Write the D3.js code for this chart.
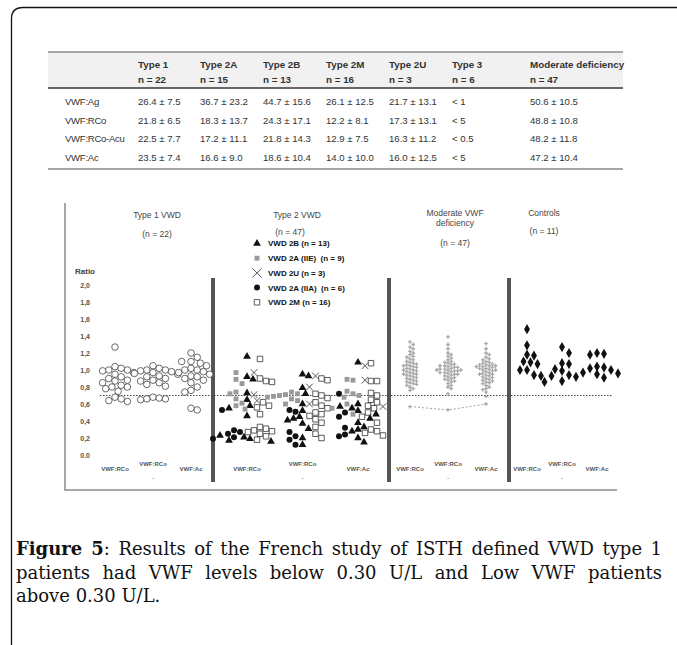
<!DOCTYPE html>
<html>
<head>
<meta charset="utf-8">
<script src="https://cdn.jsdelivr.net/npm/d3@7"></script>
<style>
  body { margin: 0; background: #fff; }
  svg { display: block; }
</style>
</head>
<body>
<svg id="chart" width="677" height="645"></svg>
<script>
// ---- table data
const tableCols = ["Type 1", "Type 2A", "Type 2B", "Type 2M", "Type 2U", "Type 3", "Moderate deficiency"];
const tableN = ["n = 22", "n = 15", "n = 13", "n = 16", "n = 3", "n = 6", "n = 47"];
const tableRows = ["VWF:Ag", "VWF:RCo", "VWF:RCo-Acu", "VWF:Ac"];
const rowAg = ["26.4 ± 7.5", "36.7 ± 23.2", "44.7 ± 15.6", "26.1 ± 12.5", "21.7 ± 13.1", "< 1", "50.6 ± 10.5"];
const rowRCo = ["21.8 ± 6.5", "18.3 ± 13.7", "24.3 ± 17.1", "12.2 ± 8.1", "17.3 ± 13.1", "< 5", "48.8 ± 10.8"];
const rowRCoAcu = ["22.5 ± 7.7", "17.2 ± 11.1", "21.8 ± 14.3", "12.9 ± 7.5", "16.3 ± 11.2", "< 0.5", "48.2 ± 11.8"];
const rowAc = ["23.5 ± 7.4", "16.6 ± 9.0", "18.6 ± 10.4", "14.0 ± 10.0", "16.0 ± 12.5", "< 5", "47.2 ± 10.4"];

// ---- plot data (ratio), one array per column: VWF:RCo, VWF:RCo, VWF:Ac
const measures = ["VWF:RCo", "VWF:RCo", "VWF:Ac"];
const yTicks = [0, 0.2, 0.4, 0.6, 0.8, 1.0, 1.2, 1.4, 1.6, 1.8, 2.0];

const type1 = [
  [1.27, 1.04, 1.02, 1.0, 1.0, 0.99, 0.97, 0.95, 0.92, 0.9, 0.88, 0.87, 0.85, 0.82, 0.8, 0.8, 0.78, 0.75, 0.68, 0.66, 0.64, 0.63],
  [1.05, 1.02, 1.0, 1.0, 0.99, 0.98, 0.97, 0.96, 0.95, 0.93, 0.92, 0.9, 0.88, 0.87, 0.85, 0.83, 0.81, 0.68, 0.67, 0.66, 0.66, 0.65],
  [1.2, 1.15, 1.1, 1.1, 1.08, 1.05, 1.02, 1.0, 1.0, 0.98, 0.97, 0.95, 0.93, 0.92, 0.9, 0.88, 0.85, 0.8, 0.76, 0.74, 0.55, 0.53]
];
const vwd2B = [
  [1.16, 0.92, 0.89, 0.73, 0.65, 0.58, 0.55, 0.46, 0.23, 0.21, 0.19, 0.17, 0.16],
  [0.95, 0.93, 0.79, 0.72, 0.6, 0.52, 0.45, 0.43, 0.41, 0.37, 0.31, 0.2, 0.12],
  [1.09, 0.6, 0.57, 0.55, 0.52, 0.48, 0.43, 0.38, 0.33, 0.3, 0.28, 0.2, 0.15]
];
const vwd2AIIE = [
  [0.97, 0.89, 0.84, 0.74, 0.72, 0.66, 0.61, 0.58, 0.54],
  [0.74, 0.72, 0.71, 0.7, 0.69, 0.68, 0.66, 0.64, 0.6],
  [0.89, 0.88, 0.75, 0.72, 0.7, 0.68, 0.6, 0.55, 0.48]
];
const vwd2U = [
  [0.97, 0.71, 0.64],
  [0.93, 0.8, 0.6],
  [1.05, 0.88, 0.57]
];
const vwd2AIIA = [
  [0.53, 0.29, 0.27, 0.25, 0.21, 0.19],
  [0.53, 0.51, 0.27, 0.22, 0.18, 0.12],
  [0.72, 0.5, 0.45, 0.32, 0.24, 0.22]
];
const vwd2M = [
  [1.13, 0.9, 0.87, 0.86, 0.62, 0.58, 0.56, 0.48, 0.33, 0.31, 0.29, 0.28, 0.27, 0.25, 0.22, 0.18],
  [0.9, 0.88, 0.72, 0.7, 0.67, 0.62, 0.58, 0.55, 0.5, 0.48, 0.46, 0.42, 0.38, 0.33, 0.25, 0.2],
  [1.08, 0.87, 0.87, 0.73, 0.7, 0.65, 0.62, 0.58, 0.55, 0.5, 0.45, 0.38, 0.3, 0.28, 0.26, 0.23]
];
const moderate = [
  [1.33, 1.3, 1.27, 1.25, 1.22, 1.2, 1.18, 1.16, 1.15, 1.13, 1.12, 1.1, 1.09, 1.08, 1.07, 1.06, 1.05, 1.05, 1.04, 1.03,
   1.02, 1.01, 1.0, 1.0, 0.99, 0.98, 0.97, 0.96, 0.95, 0.95, 0.94, 0.93, 0.92, 0.91, 0.9, 0.89, 0.88, 0.87, 0.86, 0.85,
   0.84, 0.83, 0.82, 0.8, 0.78, 0.76],
  [1.39, 1.3, 1.25, 1.2, 1.18, 1.16, 1.14, 1.12, 1.1, 1.09, 1.08, 1.07, 1.06, 1.05, 1.05, 1.04, 1.03, 1.03, 1.02, 1.01,
   1.01, 1.0, 1.0, 1.0, 0.99, 0.99, 0.98, 0.97, 0.97, 0.96, 0.95, 0.95, 0.94, 0.93, 0.92, 0.91, 0.9, 0.89, 0.88, 0.87,
   0.86, 0.84, 0.82, 0.8, 0.78, 0.72],
  [1.31, 1.25, 1.2, 1.18, 1.15, 1.13, 1.12, 1.1, 1.09, 1.08, 1.07, 1.06, 1.06, 1.05, 1.05, 1.04, 1.04, 1.03, 1.02, 1.02,
   1.01, 1.0, 1.0, 0.99, 0.98, 0.97, 0.96, 0.95, 0.95, 0.94, 0.93, 0.92, 0.91, 0.9, 0.89, 0.88, 0.87, 0.86, 0.85, 0.84,
   0.82, 0.8, 0.78, 0.77, 0.74, 0.69]
];
// one patient followed across the three assays (dashed line)
const moderateLinked = [0.57, 0.53, 0.6];
const controls = [
  [1.48, 1.29, 1.18, 1.17, 1.1, 1.09, 1.07, 1.0, 1.0, 0.94, 0.93],
  [1.27, 1.2, 1.08, 1.07, 1.01, 0.99, 0.94, 0.93, 0.92, 0.87, 0.86],
  [1.2, 1.19, 1.18, 1.04, 1.03, 1.02, 1.0, 0.97, 0.96, 0.95, 0.91]
];

const legendItems = [
  ["tri", "VWD 2B (n = 13)"],
  ["sq", "VWD 2A (IIE)  (n = 9)"],
  ["x", "VWD 2U (n = 3)"],
  ["dot", "VWD 2A (IIA)  (n = 6)"],
  ["open", "VWD 2M (n = 16)"]
];

const svg = d3.select("#chart");
const sans = "'Liberation Sans', Arial, sans-serif";

// page frame (rounded top-left corner)
svg.append("path")
  .attr("d", "M11.5,645 V19 Q11.5,7.5 23,7.5 H677")
  .attr("fill", "none").attr("stroke", "#111").attr("stroke-width", 1.3);

// ---------------- table
const tableColX = [138, 200, 263, 326, 389, 452, 530];
const tb = svg.append("g").attr("font-family", sans).attr("font-size", 9.6).attr("fill", "#333");
tb.append("rect").attr("x", 48).attr("y", 53).attr("width", 575).attr("height", 34).attr("fill", "#f1f1f1");
[[52, 1.4, "#888"], [88, 2, "#666"], [169, 1.6, "#888"]].forEach(([yy, w, c]) => {
  tb.append("line").attr("x1", 48).attr("x2", 623).attr("y1", yy).attr("y2", yy)
    .attr("stroke", c).attr("stroke-width", w);
});
tableCols.forEach((c, i) => {
  tb.append("text").attr("x", tableColX[i]).attr("y", 68).attr("font-weight", "bold").attr("font-size", 9.8).text(c);
  tb.append("text").attr("x", tableColX[i]).attr("y", 83).attr("font-weight", "bold").attr("font-size", 9.8).text(tableN[i]);
});
[rowAg, rowRCo, rowRCoAcu, rowAc].forEach((row, j) => {
  const yy = 105 + j * 18.6;
  tb.append("text").attr("x", 65).attr("y", yy).attr("letter-spacing", -0.3).text(tableRows[j]);
  row.forEach((v, i) => tb.append("text").attr("x", tableColX[i]).attr("y", yy).text(v));
});

// ---------------- dot plot
const y = d3.scaleLinear().domain([0, 2]).range([455, 285]);
const groupRanges = [[115, 191], [247, 358], [410, 486], [527, 597]];
const xs = groupRanges.map(r => d3.scalePoint().domain([0, 1, 2]).range(r));

const plot = svg.append("g");

// plot frame (left and bottom)
plot.append("path").attr("d", "M65,203 V490 H617")
  .attr("fill", "none").attr("stroke", "#8a8a8a").attr("stroke-width", 1.5);

// thick separators between groups
[213, 389, 509].forEach(xx => {
  plot.append("line").attr("x1", xx).attr("x2", xx).attr("y1", 278).attr("y2", 482)
    .attr("stroke", "#555").attr("stroke-width", 4);
});

// y axis labels
const fmt = v => v === 0 ? "0.0" : d3.format(".1f")(v).replace(".", ",");
const yAxis = plot.append("g").attr("transform", "translate(90,0)")
  .call(d3.axisLeft(y).tickValues(yTicks).tickFormat(fmt).tickSize(0).tickPadding(0));
yAxis.select(".domain").remove();
yAxis.selectAll("text").attr("font-family", sans).attr("font-size", 7).attr("font-weight", "bold").attr("fill", "#555");
plot.append("text").attr("x", 75).attr("y", 274).attr("font-family", sans).attr("font-size", 8)
  .attr("font-weight", "bold").attr("fill", "#444").text("Ratio");

// reference line
plot.append("line").attr("x1", 100).attr("x2", 613).attr("y1", y(0.7)).attr("y2", y(0.7))
  .attr("stroke", "#444").attr("stroke-width", 1).attr("stroke-dasharray", "1.5,1.5");

// group headings
const head = plot.append("g").attr("font-family", sans).attr("font-size", 8.5).attr("fill", "#444")
  .attr("text-anchor", "middle");
[["Type 1 VWD", 157, 218], ["(n = 22)", 157, 237], ["Type 2 VWD", 297, 218], ["(n = 47)", 290, 235],
 ["Moderate VWF", 455, 216], ["deficiency", 455, 226], ["(n = 47)", 455, 246],
 ["Controls", 544, 216], ["(n = 11)", 544, 234]].forEach(([t, xx, yy]) => {
  head.append("text").attr("x", xx).attr("y", yy).text(t);
});

// bottom assay labels
const lab = plot.append("g").attr("font-family", sans).attr("font-size", 6).attr("font-weight", "bold")
  .attr("fill", "#555").attr("text-anchor", "middle");
xs.forEach(sc => {
  measures.forEach((m, i) => {
    lab.append("text").attr("x", sc(i)).attr("y", i === 1 ? 466 : 471).text(m);
  });
  lab.append("text").attr("x", sc(1)).attr("y", 479).text(".");
});

// symbols
const sym = {
  ring: d3.symbol(d3.symbolCircle, 34)(),
  tri: d3.symbol(d3.symbolTriangle, 26)(),
  sq: d3.symbol(d3.symbolSquare, 24)(),
  x: "M-3.3,-3.3L3.3,3.3M-3.3,3.3L3.3,-3.3",
  dot: d3.symbol(d3.symbolCircle, 28)(),
  open: d3.symbol(d3.symbolSquare, 30)(),
  star: d3.symbol(d3.symbolCross, 8)(),
  dia: d3.symbol(d3.symbolDiamond, 30)()
};
const symStyle = {
  ring: { fill: "#fff", stroke: "#444", sw: 0.8 },
  tri: { fill: "#111", stroke: "none", sw: 0 },
  sq: { fill: "#9a9a9a", stroke: "none", sw: 0 },
  x: { fill: "none", stroke: "#555", sw: 1 },
  dot: { fill: "#111", stroke: "none", sw: 0 },
  open: { fill: "#fff", stroke: "#333", sw: 0.8 },
  star: { fill: "#a8a8a8", stroke: "none", sw: 0 },
  dia: { fill: "#111", stroke: "none", sw: 0 }
};

// simple deterministic beeswarm: each point goes to the nearest free spot beside its base x
function swarm(points, minDist, step) {
  const placed = [];
  points.sort((a, b) => b.v - a.v).forEach(p => {
    p.y = y(p.v);
    p.x = p.base;
    for (let k = 0; k < 80; k++) {
      const off = (k % 2 ? 1 : -1) * Math.ceil(k / 2) * step;
      const xx = p.base + off;
      if (placed.every(q => Math.hypot(q.x - xx, q.y - p.y) >= minDist)) { p.x = xx; break; }
    }
    placed.push(p);
  });
  return points;
}

function draw(points) {
  plot.append("g").selectAll("path").data(points).join("path")
    .attr("transform", d => `translate(${d.x},${d.y})`)
    .attr("d", d => sym[d.type])
    .attr("fill", d => symStyle[d.type].fill)
    .attr("stroke", d => symStyle[d.type].stroke)
    .attr("stroke-width", d => symStyle[d.type].sw);
}

// type 1
type1.forEach((col, i) => {
  draw(swarm(col.map(v => ({ v, type: "ring", base: xs[0](i) })), 6.2, 3.1));
});

// type 2, each subtype has its own lane inside the column
const lanes = { dot: -13, sq: -11, tri: 0, x: 7, open: 13 };
const type2Sets = [["tri", vwd2B], ["sq", vwd2AIIE], ["x", vwd2U], ["dot", vwd2AIIA], ["open", vwd2M]];
[0, 1, 2].forEach(i => {
  const pts = [];
  type2Sets.forEach(([t, arr]) => arr[i].forEach(v => pts.push({ v, type: t, base: xs[1](i) + lanes[t] })));
  draw(swarm(pts, 6, 3));
});

// moderate deficiency
moderate.forEach((col, i) => {
  draw(swarm(col.map(v => ({ v, type: "star", base: xs[2](i) })), 3.2, 1.6));
});
plot.append("path")
  .attr("d", d3.line().x((v, i) => xs[2](i)).y(v => y(v))(moderateLinked))
  .attr("fill", "none").attr("stroke", "#a0a0a0").attr("stroke-width", 1).attr("stroke-dasharray", "2,2");
draw(moderateLinked.map((v, i) => ({ v, type: "star", x: xs[2](i), y: y(v) })));

// controls
controls.forEach((col, i) => {
  draw(swarm(col.map(v => ({ v, type: "dia", base: xs[3](i) })), 7, 3.5));
});

// legend
const leg = plot.append("g").attr("font-family", sans).attr("font-size", 8).attr("font-weight", "bold")
  .attr("fill", "#111");
legendItems.forEach(([t, label], i) => {
  const yy = 243.5 + i * 14.7;
  const s = t === "x" ? "M-4.5,-4.5L4.5,4.5M-4.5,4.5L4.5,-4.5" : sym[t];
  leg.append("path").attr("transform", `translate(257,${yy})`).attr("d", s)
    .attr("fill", symStyle[t].fill).attr("stroke", symStyle[t].stroke)
    .attr("stroke-width", symStyle[t].sw);
  leg.append("text").attr("x", 268).attr("y", yy + 2.9).style("white-space", "pre").text(label);
});

// ---------------- caption
const captionLines = [
  [["Figure 5", true], [": Results of the French study of ISTH defined VWD type 1", false]],
  [["patients had VWF levels below 0.30 U/L and Low VWF patients", false]],
  [["above 0.30 U/L.", false]]
];
const cap = svg.append("g").attr("font-family", "'DejaVu Serif', 'Liberation Serif', serif")
  .attr("font-size", 18).attr("fill", "#111");
captionLines.forEach((parts, i) => {
  const t = cap.append("text").attr("x", 16).attr("y", 555 + i * 23.5);
  parts.forEach(([s, b]) => t.append("tspan").attr("font-weight", b ? "bold" : "normal").text(s));
  if (i < 2) {
    const natural = t.node().getComputedTextLength();
    const spaces = parts.map(p => p[0]).join("").split(" ").length - 1;
    t.attr("word-spacing", Math.max(0, (646 - natural) / spaces));
  }
});
</script>
</body>
</html>
